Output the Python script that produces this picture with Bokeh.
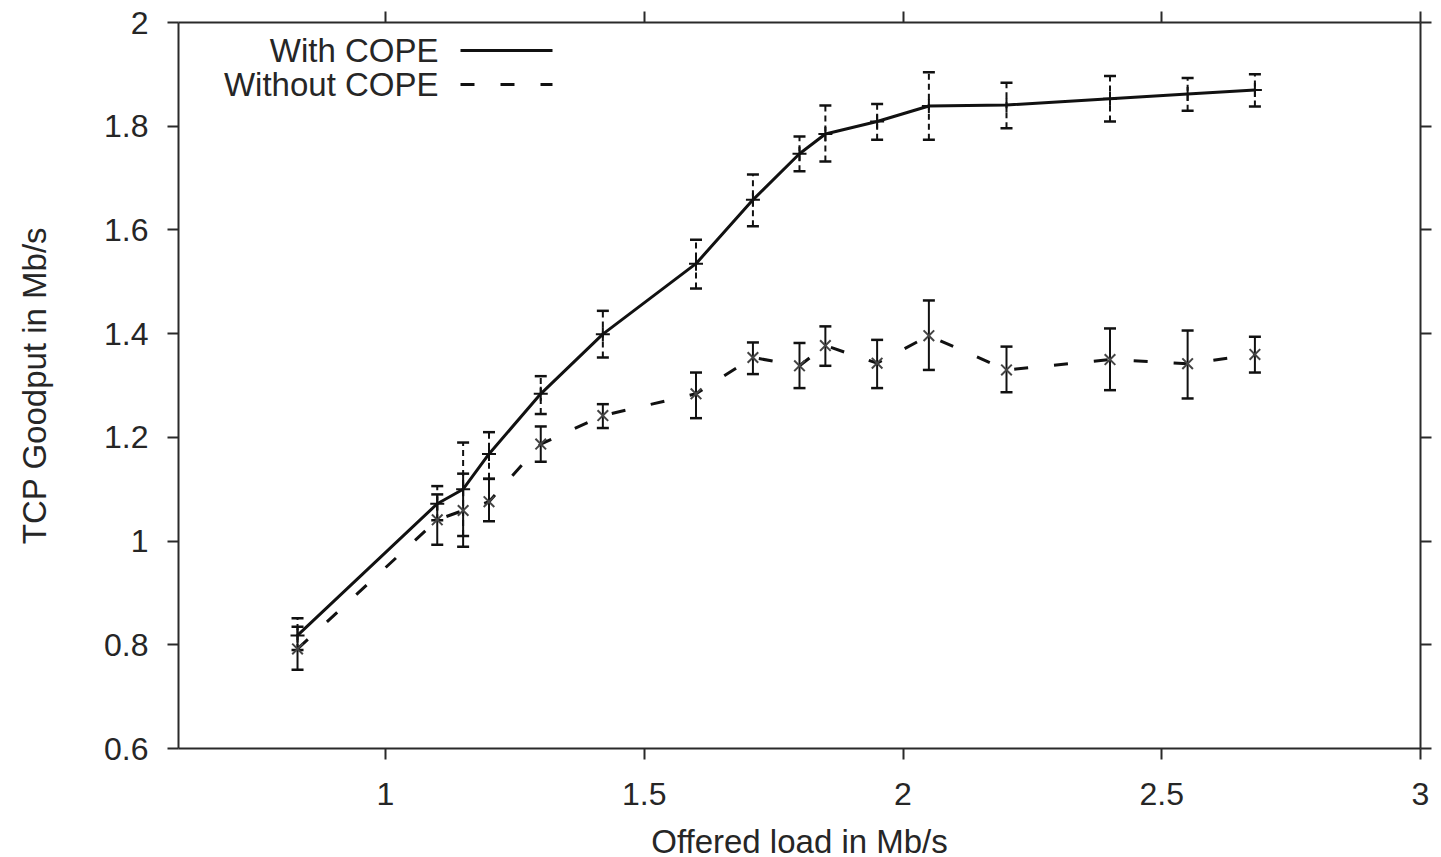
from bokeh.plotting import figure
from bokeh.models import (ColumnDataSource, Range1d, LinearAxis, Whisker, TeeHead,
                          Label, Arrow, FixedTicker, CustomJSTickFormatter)
from bokeh.embed import file_html
from bokeh.resources import INLINE

# ---- data ----
offered_load = [0.83, 1.10, 1.15, 1.20, 1.30, 1.42, 1.60, 1.71, 1.80, 1.85, 1.95, 2.05, 2.20, 2.40, 2.55, 2.68]
with_cope = [0.818, 1.072, 1.100, 1.168, 1.284, 1.399, 1.535, 1.658, 1.747, 1.785, 1.809, 1.839, 1.841, 1.853, 1.862, 1.870]
with_lo = [0.790, 1.040, 1.010, 1.120, 1.245, 1.354, 1.487, 1.607, 1.713, 1.732, 1.774, 1.774, 1.796, 1.809, 1.830, 1.838]
with_hi = [0.851, 1.106, 1.190, 1.210, 1.318, 1.444, 1.581, 1.707, 1.780, 1.840, 1.843, 1.904, 1.884, 1.897, 1.893, 1.900]
without_cope = [0.792, 1.041, 1.059, 1.076, 1.187, 1.242, 1.284, 1.354, 1.338, 1.377, 1.343, 1.396, 1.330, 1.350, 1.342, 1.360]
without_lo = [0.752, 0.993, 0.989, 1.038, 1.153, 1.218, 1.237, 1.322, 1.295, 1.338, 1.295, 1.330, 1.287, 1.291, 1.275, 1.325]
without_hi = [0.835, 1.090, 1.130, 1.120, 1.221, 1.264, 1.325, 1.383, 1.382, 1.414, 1.388, 1.464, 1.375, 1.410, 1.406, 1.394]
x_ticks = [1, 1.5, 2, 2.5, 3]
y_ticks = [0.6, 0.8, 1.0, 1.2, 1.4, 1.6, 1.8, 2.0]
legend_labels = ["With COPE", "Without COPE"]

FONT = "Liberation Sans"
TXT = "#262626"
AX = "#2a2a2a"

src_w = ColumnDataSource(dict(x=offered_load, y=with_cope, lo=with_lo, hi=with_hi))
src_o = ColumnDataSource(dict(x=offered_load, y=without_cope, lo=without_lo, hi=without_hi))

p = figure(frame_width=1242, frame_height=726, output_backend="svg", toolbar_location=None,
           x_range=Range1d(0.6, 3.0), y_range=Range1d(0.6, 2.0),
           min_border_left=178, min_border_right=13, min_border_top=22, min_border_bottom=20,
           x_axis_location=None, y_axis_location=None)
p.outline_line_color = None
p.xgrid.visible = False
p.ygrid.visible = False
p.background_fill_color = "white"
p.border_fill_color = "white"

def style_axis(ax, show_labels):
    ax.axis_line_color = AX
    ax.axis_line_width = 2
    ax.major_tick_line_color = AX
    ax.major_tick_line_width = 2
    ax.major_tick_out = 11
    ax.major_tick_in = 0
    ax.minor_tick_line_color = None
    ax.major_label_text_font = FONT
    ax.major_label_text_color = TXT
    ax.axis_label_text_font = FONT
    ax.axis_label_text_color = TXT
    ax.axis_label_text_font_style = "normal"
    ax.major_label_text_font_size = "32px"
    ax.axis_label_text_font_size = "33px"
    if not show_labels:
        ax.formatter = CustomJSTickFormatter(code="return ''")
        ax.major_label_standoff = 0

xb = LinearAxis(ticker=FixedTicker(ticks=x_ticks), axis_label="Offered load in Mb/s")
style_axis(xb, True)
xb.major_label_standoff = 23
xb.axis_label_standoff = 15
p.add_layout(xb, "below")

yl = LinearAxis(ticker=FixedTicker(ticks=y_ticks), axis_label="TCP Goodput in Mb/s")
style_axis(yl, True)
yl.major_label_standoff = 19
yl.axis_label_standoff = 48
p.add_layout(yl, "left")

xt = LinearAxis(ticker=FixedTicker(ticks=x_ticks))
style_axis(xt, False)
p.add_layout(xt, "above")
yr = LinearAxis(ticker=FixedTicker(ticks=y_ticks))
style_axis(yr, False)
p.add_layout(yr, "right")

# error bars
p.add_layout(Whisker(source=src_w, base="x", lower="lo", upper="hi",
                     line_color="#111111", line_width=2, line_dash="6 4",
                     upper_head=TeeHead(size=12, line_width=2.5, line_color="#111111"),
                     lower_head=TeeHead(size=12, line_width=2.5, line_color="#111111")))
p.add_layout(Whisker(source=src_o, base="x", lower="lo", upper="hi",
                     line_color="#111111", line_width=2,
                     upper_head=TeeHead(size=12, line_width=2.5, line_color="#111111"),
                     lower_head=TeeHead(size=12, line_width=2.5, line_color="#111111")))

# lines
p.line("x", "y", source=src_w, line_color="#111111", line_width=3)
p.line("x", "y", source=src_o, line_color="#111111", line_width=3, line_dash="14 26")

# markers
p.scatter("x", "y", source=src_w, marker="cross", size=14, line_color="#111111", line_width=2)
p.scatter("x", "y", source=src_o, marker="x", size=15, line_color="#444444", line_width=2)

# legend (gnuplot style: text right-aligned, sample to the right)
for i, (lab, dash) in enumerate(zip(legend_labels, ["solid", "14 26"])):
    ys = 698 - i * 34
    p.add_layout(Label(x=260, y=ys, x_units="screen", y_units="screen", text=lab,
                       text_align="right", text_baseline="middle", text_font=FONT,
                       text_font_size="33px", text_color=TXT))
    p.add_layout(Arrow(x_start=282, y_start=ys, x_end=374, y_end=ys,
                       start_units="screen", end_units="screen", end=None,
                       line_color="#111111", line_width=3, line_dash=dash))

open("out.html", "w").write(file_html(p, INLINE))
